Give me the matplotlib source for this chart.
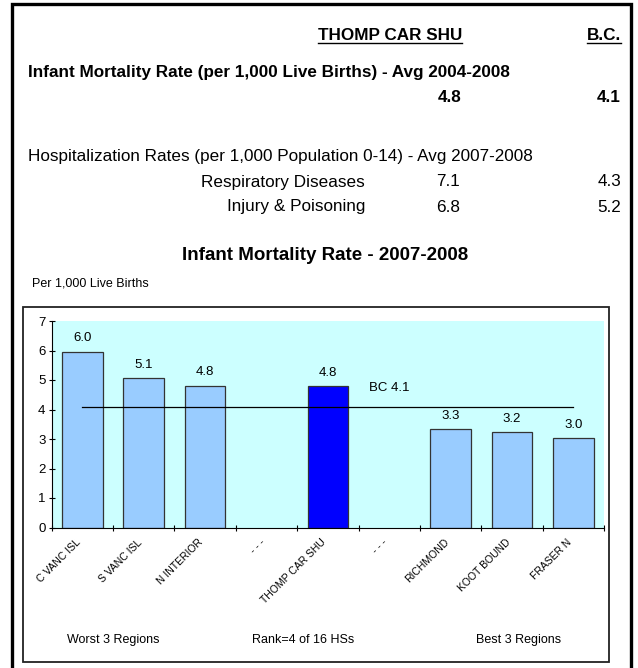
import matplotlib.pyplot as plt
from matplotlib.patches import Rectangle
from matplotlib.lines import Line2D

# summary table at the top
area_name = 'THOMP CAR SHU'
bc_name = 'B.C.'
imr_title = 'Infant Mortality Rate (per 1,000 Live Births) - Avg 2004-2008'
imr_area = 4.8
imr_bc = 4.1
hosp_title = 'Hospitalization Rates (per 1,000 Population 0-14) - Avg 2007-2008'
hosp_causes = ['Respiratory Diseases', 'Injury & Poisoning']
hosp_area = [7.1, 6.8]
hosp_bc = [4.3, 5.2]

# bar chart
chart_title = 'Infant Mortality Rate - 2007-2008'
unit_label = 'Per 1,000 Live Births'
regions = ['C VANC ISL', 'S VANC ISL', 'N INTERIOR', '- - -', 'THOMP CAR SHU',
           '- - -', 'RICHMOND', 'KOOT BOUND', 'FRASER N']
rates = [5.96, 5.07, 4.81, None, 4.78, None, 3.34, 3.24, 3.02]
bc_rate = 4.1
group_labels = ['Worst 3 Regions', 'Rank=4 of 16 HSs', 'Best 3 Regions']
group_pos = [0.5, 3.6, 7.1]

W, H = 638, 668
plt.rcParams['font.family'] = ['Liberation Sans', 'DejaVu Sans']
fig = plt.figure(figsize=(W / 100, H / 100), dpi=100)


def px(x, y):
    """pixel position (from top left) -> figure fraction"""
    return x / W, 1 - y / H


# outer frame and inner chart box
fig.patches.append(Rectangle(px(12, 700), 619 / W, 696 / H, transform=fig.transFigure,
                             fill=False, lw=2.4, ec='black'))
fig.patches.append(Rectangle(px(23, 662), 586 / W, 355 / H, transform=fig.transFigure,
                             fill=False, lw=1.3, ec='#222222'))

# header table
fs = 12.3
hdr1 = fig.text(*px(390, 36), area_name, ha='center', va='center', fontsize=fs, weight='bold')
hdr2 = fig.text(*px(621, 36), bc_name, ha='right', va='center', fontsize=fs, weight='bold')
fig.text(*px(28, 72), imr_title, ha='left', va='center', fontsize=fs, weight='bold')
fig.text(*px(461, 98), f'{imr_area:.1f}', ha='right', va='center', fontsize=fs, weight='bold')
fig.text(*px(621, 98), f'{imr_bc:.1f}', ha='right', va='center', fontsize=fs, weight='bold')
fig.text(*px(28, 157), hosp_title, ha='left', va='center', fontsize=fs)
for k, cause in enumerate(hosp_causes):
    y = 182 + 25 * k
    fig.text(*px(365, y), cause, ha='right', va='center', fontsize=fs)
    fig.text(*px(460, y), f'{hosp_area[k]:.1f}', ha='right', va='center', fontsize=fs)
    fig.text(*px(621, y), f'{hosp_bc[k]:.1f}', ha='right', va='center', fontsize=fs)

fig.text(*px(325, 256), chart_title, ha='center', va='center', fontsize=13.5, weight='bold')
fig.text(*px(32, 284), unit_label, ha='left', va='center', fontsize=9)

# axes
ax = fig.add_axes([51.7 / W, (H - 527.5) / H, (604 - 51.7) / W, (527.5 - 321) / H])
ax.set_facecolor('#CCFFFF')
n = len(regions)
for i, v in enumerate(rates):
    if v is None:
        continue
    col = '#0000FF' if regions[i] == area_name else '#99CCFF'
    ax.bar(i, v, width=0.66, color=col, edgecolor='#333333', linewidth=0.9, zorder=2)
    ax.annotate(f'{v:.1f}', (i, v), xytext=(0, 9.5), textcoords='offset points',
                ha='center', va='center', fontsize=9.5)

ax.plot([0, n - 1], [bc_rate, bc_rate], color='black', lw=0.9, zorder=3)
ax.text((n - 1) / 2 + 1.0, bc_rate + 0.63, f'BC {bc_rate}', ha='center', va='center', fontsize=9.5)

ax.set_xlim(-0.5, n - 0.5)
ax.set_ylim(0, 7)
ax.set_yticks(range(8))
ax.set_xticks([i - 0.5 for i in range(n + 1)])
ax.set_xticklabels([])
ax.tick_params(axis='both', direction='inout', length=5, width=0.8, labelsize=9.5)
ax.tick_params(axis='y', pad=2)
for s in ['top', 'right']:
    ax.spines[s].set_visible(False)
for s in ['left', 'bottom']:
    ax.spines[s].set_linewidth(0.8)

for i, name in enumerate(regions):
    ax.annotate(name, (i, 0), xytext=(-5, -7), textcoords='offset points',
                rotation=45, rotation_mode='anchor', ha='right', va='top', fontsize=7.5)

for lab, pos in zip(group_labels, group_pos):
    ax.annotate(lab, (pos, 0), xycoords=('data', 'axes fraction'), xytext=(0, -81),
                textcoords='offset points', ha='center', va='center', fontsize=9)

# underline the column headers
fig.canvas.draw()
r = fig.canvas.get_renderer()
for t in [hdr1, hdr2]:
    bb = t.get_window_extent(r).transformed(fig.transFigure.inverted())
    fig.add_artist(Line2D([bb.x0, bb.x1], [bb.y0 + 0.001, bb.y0 + 0.001],
                          transform=fig.transFigure, color='black', lw=1.0))

fig.savefig('out.png', dpi=100)
